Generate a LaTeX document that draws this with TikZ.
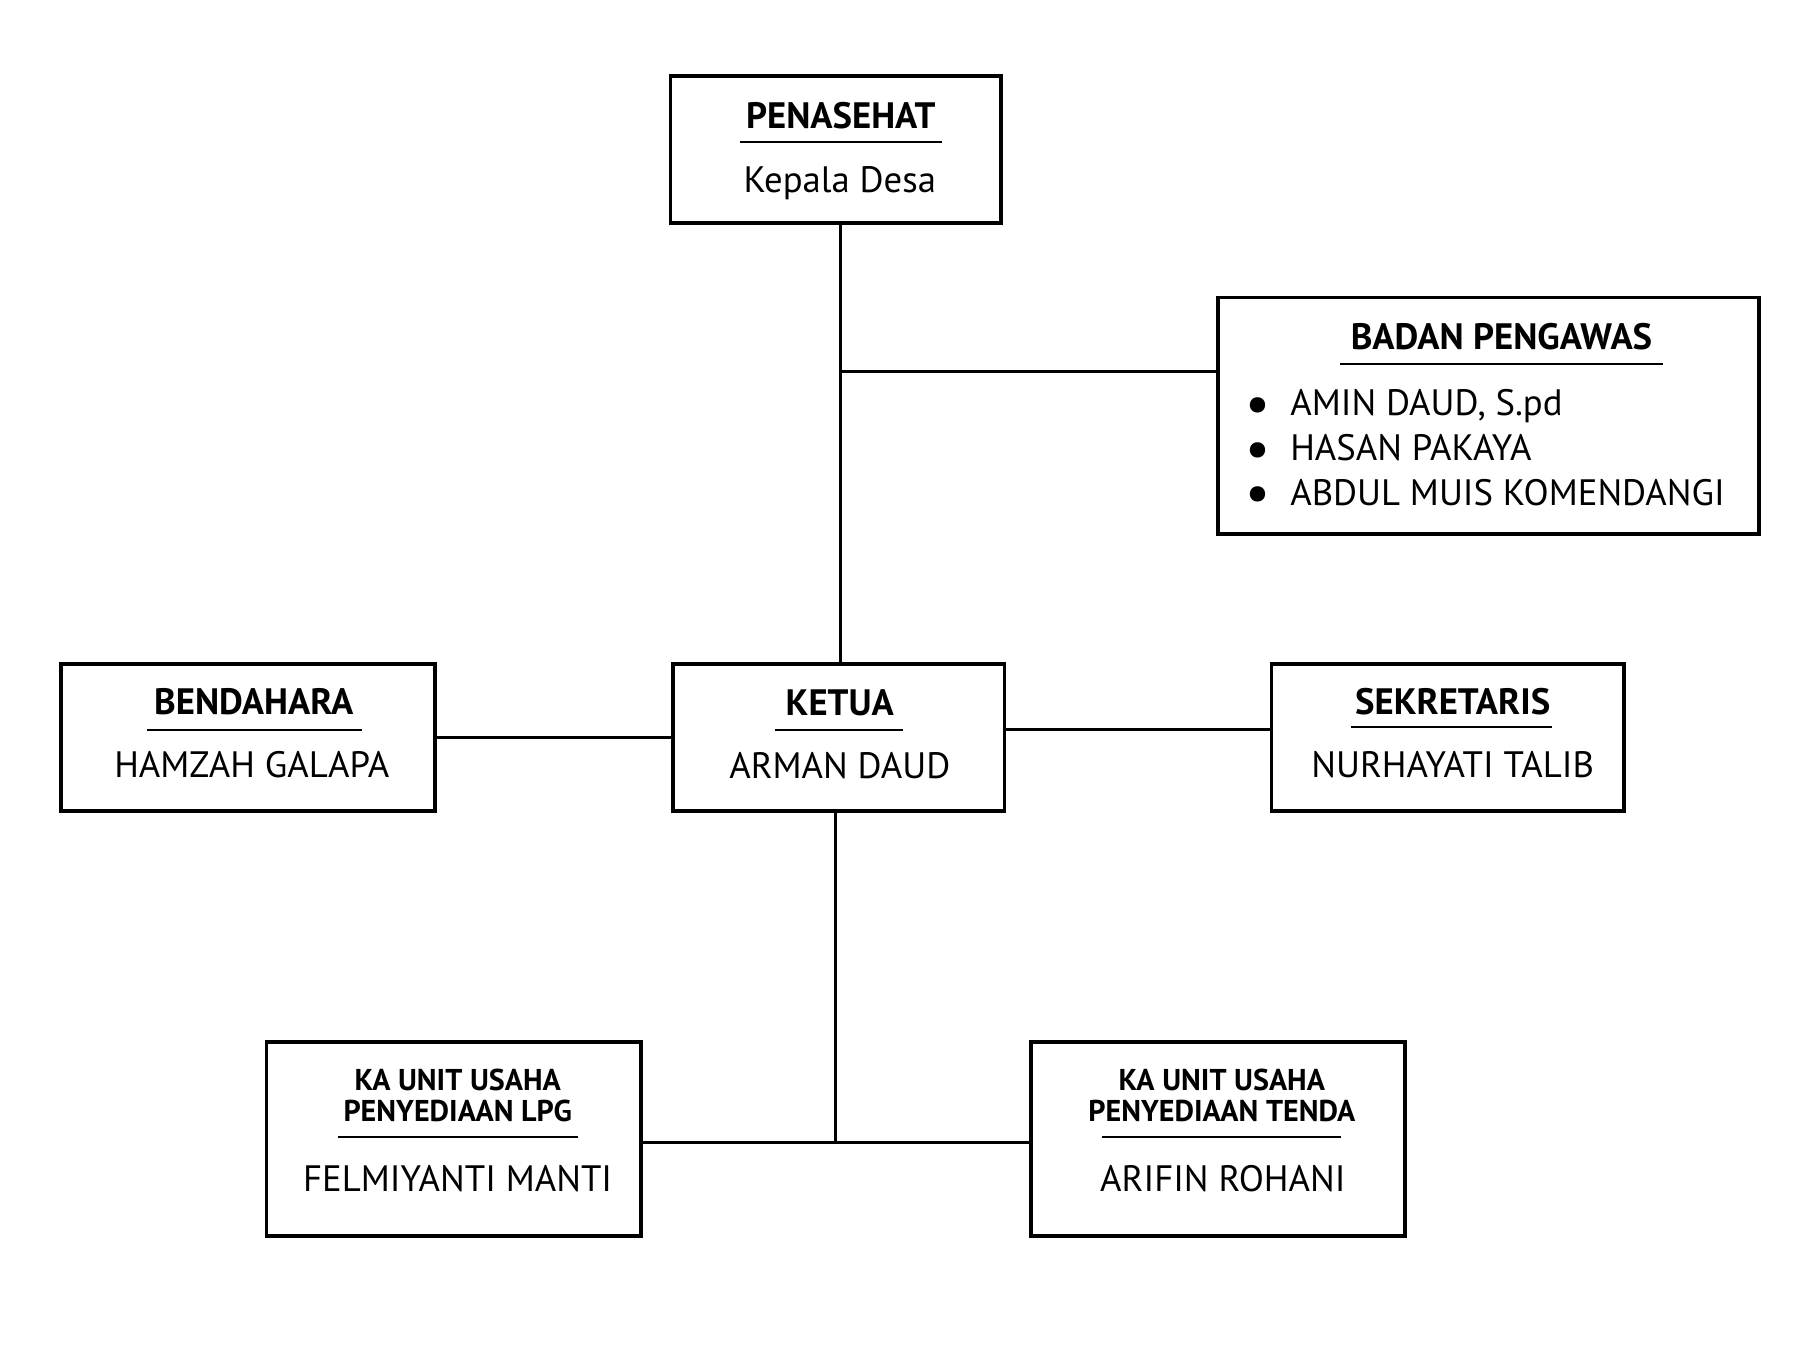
\documentclass[tikz,border=0pt]{standalone}
\usepackage{fontspec}
\setmainfont{PT Sans}
\usetikzlibrary{positioning}

\tikzstyle{box} = [rectangle, draw = black, line width = 1.1pt, inner sep = 0pt]
\tikzstyle{head} = [anchor = base, inner sep = 0pt, font = \fontsize{10.5}{12.8}\selectfont\bfseries]
\tikzstyle{headsmall} = [anchor = base, inner sep = 0pt, align = center, font = \fontsize{8.6}{8.8}\selectfont\bfseries]
\tikzstyle{who} = [anchor = base, inner sep = 0pt, font = \fontsize{10.5}{12.8}\selectfont]
\tikzstyle{uline} = [inner sep = 0pt]
\tikzstyle{line} = [line width = 0.9pt, -, draw = black]

\newcommand{\dotitem}{\makebox[0.45cm][l]{\smash{\raisebox{-0.35ex}{\scalebox{1.5}{\textbullet}}}}}

\begin{document}
\begin{tikzpicture}[x = 0.01cm, y = -0.01cm]
    \useasboundingbox (0, 0) rectangle (1800, 1350);
    \begin{scope}[scale = 0.995, transform shape]
    % boxes
    \node(penasehat)[box, minimum width = 3.32cm, minimum height = 1.48cm] at (840, 150) {};
    \node(pengawas)[box, minimum width = 5.44cm, minimum height = 2.38cm] at (1496, 418) {};
    \node(bendahara)[box, minimum width = 3.76cm, minimum height = 1.48cm] at (249, 741) {};
    \node(ketua)[box, minimum width = 3.33cm, minimum height = 1.48cm] at (843, 741) {};
    \node(sekretaris)[box, minimum width = 3.54cm, minimum height = 1.48cm] at (1455, 741) {};
    \node(lpg)[box, minimum width = 3.76cm, minimum height = 1.95cm] at (456, 1145) {};
    \node(tenda)[box, minimum width = 3.76cm, minimum height = 1.95cm] at (1224, 1145) {};
    % texts (multi-line nodes sit on their last line)
    \node(penasehat_t)[head] at (845, 129) {PENASEHAT};
    \node(penasehat_u)[uline] at (845, 143) {\rule{2.03cm}{0.6pt}};
    \node(penasehat_n)[who] at (844, 193) {Kepala Desa};
    \node(pengawas_t)[head] at (1509, 351) {BADAN PENGAWAS};
    \node(pengawas_u)[uline] at (1509, 366) {\rule{3.24cm}{0.6pt}};
    \node(pengawas_n)[who, anchor = base west, align = left] at (1251, 508)
        {\dotitem AMIN DAUD, S.pd\\
         \dotitem HASAN PAKAYA\\
         \dotitem ABDUL MUIS KOMENDANGI};
    \node(ketua_t)[head] at (844, 719) {KETUA};
    \node(ketua_u)[uline] at (843, 734) {\rule{1.29cm}{0.6pt}};
    \node(ketua_n)[who] at (844, 782) {ARMAN DAUD};
    \node(bendahara_t)[head] at (255, 718) {BENDAHARA};
    \node(bendahara_u)[uline] at (256, 734) {\rule{2.16cm}{0.6pt}};
    \node(bendahara_n)[who] at (253, 781) {HAMZAH GALAPA};
    \node(sekretaris_t)[head] at (1460, 718) {SEKRETARIS};
    \node(sekretaris_u)[uline] at (1459, 731) {\rule{2.02cm}{0.6pt}};
    \node(sekretaris_n)[who] at (1460, 781) {NURHAYATI TALIB};
    \node(lpg_t)[headsmall] at (460, 1127) {KA UNIT USAHA\\PENYEDIAAN LPG};
    \node(lpg_u)[uline] at (460, 1143) {\rule{2.41cm}{0.6pt}};
    \node(lpg_n)[who] at (460, 1197) {FELMIYANTI MANTI};
    \node(tenda_t)[headsmall] at (1228, 1127) {KA UNIT USAHA\\PENYEDIAAN TENDA};
    \node(tenda_u)[uline] at (1228, 1143) {\rule{2.40cm}{0.6pt}};
    \node(tenda_n)[who] at (1229, 1197) {ARIFIN ROHANI};
    % connectors
    \coordinate(jointop) at (845, 373);
    \coordinate(joinbot) at (840, 1148);
    \draw[line] (ketua.north -| jointop) -- (penasehat.south -| jointop);
    \draw[line] (jointop) -- (jointop -| pengawas.west);
    \draw[line] (bendahara.east) -- (ketua.west);
    \draw[line] ([yshift = 0.08cm]ketua.east) -- ([yshift = 0.08cm]sekretaris.west);
    \draw[line] (ketua.south -| joinbot) -- (joinbot);
    \draw[line] (lpg.east |- joinbot) -- (tenda.west |- joinbot);
    \end{scope}
\end{tikzpicture}
\end{document}
